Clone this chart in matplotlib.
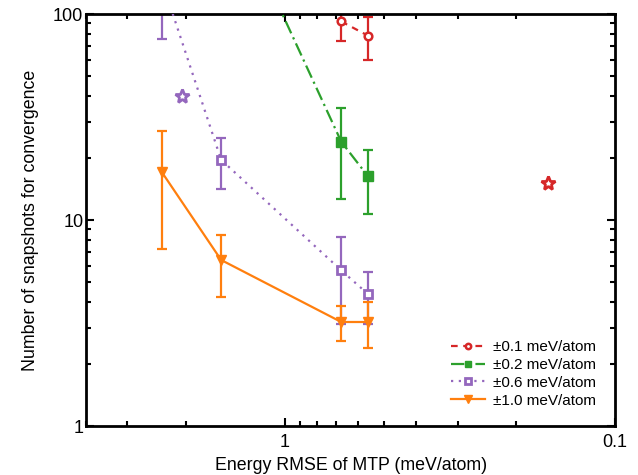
import numpy as np
import matplotlib
matplotlib.use("Agg")
from matplotlib import pyplot as plt
from matplotlib.ticker import LogLocator, NullFormatter, FixedLocator, FixedFormatter

plt.rcParams['font.family'] = ['Liberation Sans', 'DejaVu Sans']

# energy RMSE of MTP (meV/atom)
rmse = [2.36, 1.56, 0.675, 0.56]

# +-0.1 meV/atom
red_x = [0.675, 0.56]
red_y = [92, 78.5]
red_lo = [74, 59.6]
red_hi = [115, 97]

# +-0.2 meV/atom
green_x = [1.56, 0.675, 0.56]
green_y = [440, 24, 16.3]
green_lo = [250, 12.7, 10.7]
green_hi = [700, 35, 21.9]

# +-0.6 meV/atom
purple_y = [145, 19.6, 5.7, 4.37]
purple_lo = [76, 14.2, 3.12, 3.12]
purple_hi = [260, 25, 8.3, 5.6]

# +-1.0 meV/atom
orange_y = [17.1, 6.4, 3.2, 3.2]
orange_lo = [7.2, 4.24, 2.59, 2.40]
orange_hi = [27, 8.5, 3.83, 4.0]

# single reference points (stars)
star_purple = (2.05, 40)
star_red = (0.160, 15.1)

labels = ['±0.1 meV/atom', '±0.2 meV/atom', '±0.6 meV/atom', '±1.0 meV/atom']
colors = ['#d62728', '#2ca02c', '#9467bd', '#ff7f0e']

fig = plt.figure(figsize=(6.38, 4.75), dpi=100)
ax = fig.add_axes([0.135, 0.103, 0.829, 0.8675])

series = [
    (red_x, red_y, red_lo, red_hi, (0, (3, 2.5)), 'o', 'white', 5.5, 1.8),
    (green_x, green_y, green_lo, green_hi, (0, (6, 2, 1, 2)), 's', colors[1], 7, 1),
    (rmse, purple_y, purple_lo, purple_hi, (0, (1, 2.5)), 's', 'white', 6, 2),
    (rmse, orange_y, orange_lo, orange_hi, '-', 'v', colors[3], 7.5, 1),
]

for (x, y, lo, hi, ls, mk, mfc, ms, mew), c, lab in zip(series, colors, labels):
    y = np.array(y)
    err = [y - np.array(lo), np.array(hi) - y]
    ax.errorbar(x, y, yerr=err, fmt='none', ecolor=c, elinewidth=1.6,
                capsize=3.6, capthick=1.6, zorder=2)
    ax.plot(x, y, linestyle=ls, color=c, lw=1.6, marker=mk, ms=ms,
            mfc=mfc, mec=c, mew=mew, label=lab, zorder=3)

ax.plot(*star_purple, marker='*', ms=10, mfc='white', mec=colors[2], mew=2,
        linestyle='none')
ax.plot(*star_red, marker='*', ms=10, mfc='white', mec=colors[0], mew=2,
        linestyle='none')

ax.set_xscale('log')
ax.set_yscale('log')
ax.set_xlim(4, 0.1)
ax.set_ylim(1, 100)

ax.xaxis.set_major_locator(FixedLocator([1, 0.1]))
ax.xaxis.set_major_formatter(FixedFormatter(['1', '0.1']))
ax.xaxis.set_minor_locator(LogLocator(base=10, subs=np.arange(2, 10)))
ax.xaxis.set_minor_formatter(NullFormatter())
ax.yaxis.set_major_locator(FixedLocator([1, 10, 100]))
ax.yaxis.set_major_formatter(FixedFormatter(['1', '10', '100']))
ax.yaxis.set_minor_locator(LogLocator(base=10, subs=np.arange(2, 10)))
ax.yaxis.set_minor_formatter(NullFormatter())

ax.tick_params(which='both', direction='in', top=True, right=True, width=1.5,
               labelsize=13)
ax.tick_params(which='major', length=6)
ax.tick_params(which='minor', length=3.5)
ax.tick_params(axis='x', which='major', pad=6)
ax.tick_params(axis='y', which='major', pad=2)
for s in ax.spines.values():
    s.set_linewidth(2)

ax.set_xlabel('Energy RMSE of MTP (meV/atom)', fontsize=12.8, labelpad=4)
ax.set_ylabel('Number of snapshots for convergence', fontsize=12.8, labelpad=10)

ax.legend(loc='lower right', bbox_to_anchor=(0.975, 0.03), frameon=False,
          fontsize=11, handlelength=2.2, handletextpad=0.5, labelspacing=0.25,
          borderaxespad=0, markerscale=0.7)

fig.savefig('out.png', dpi=100)
